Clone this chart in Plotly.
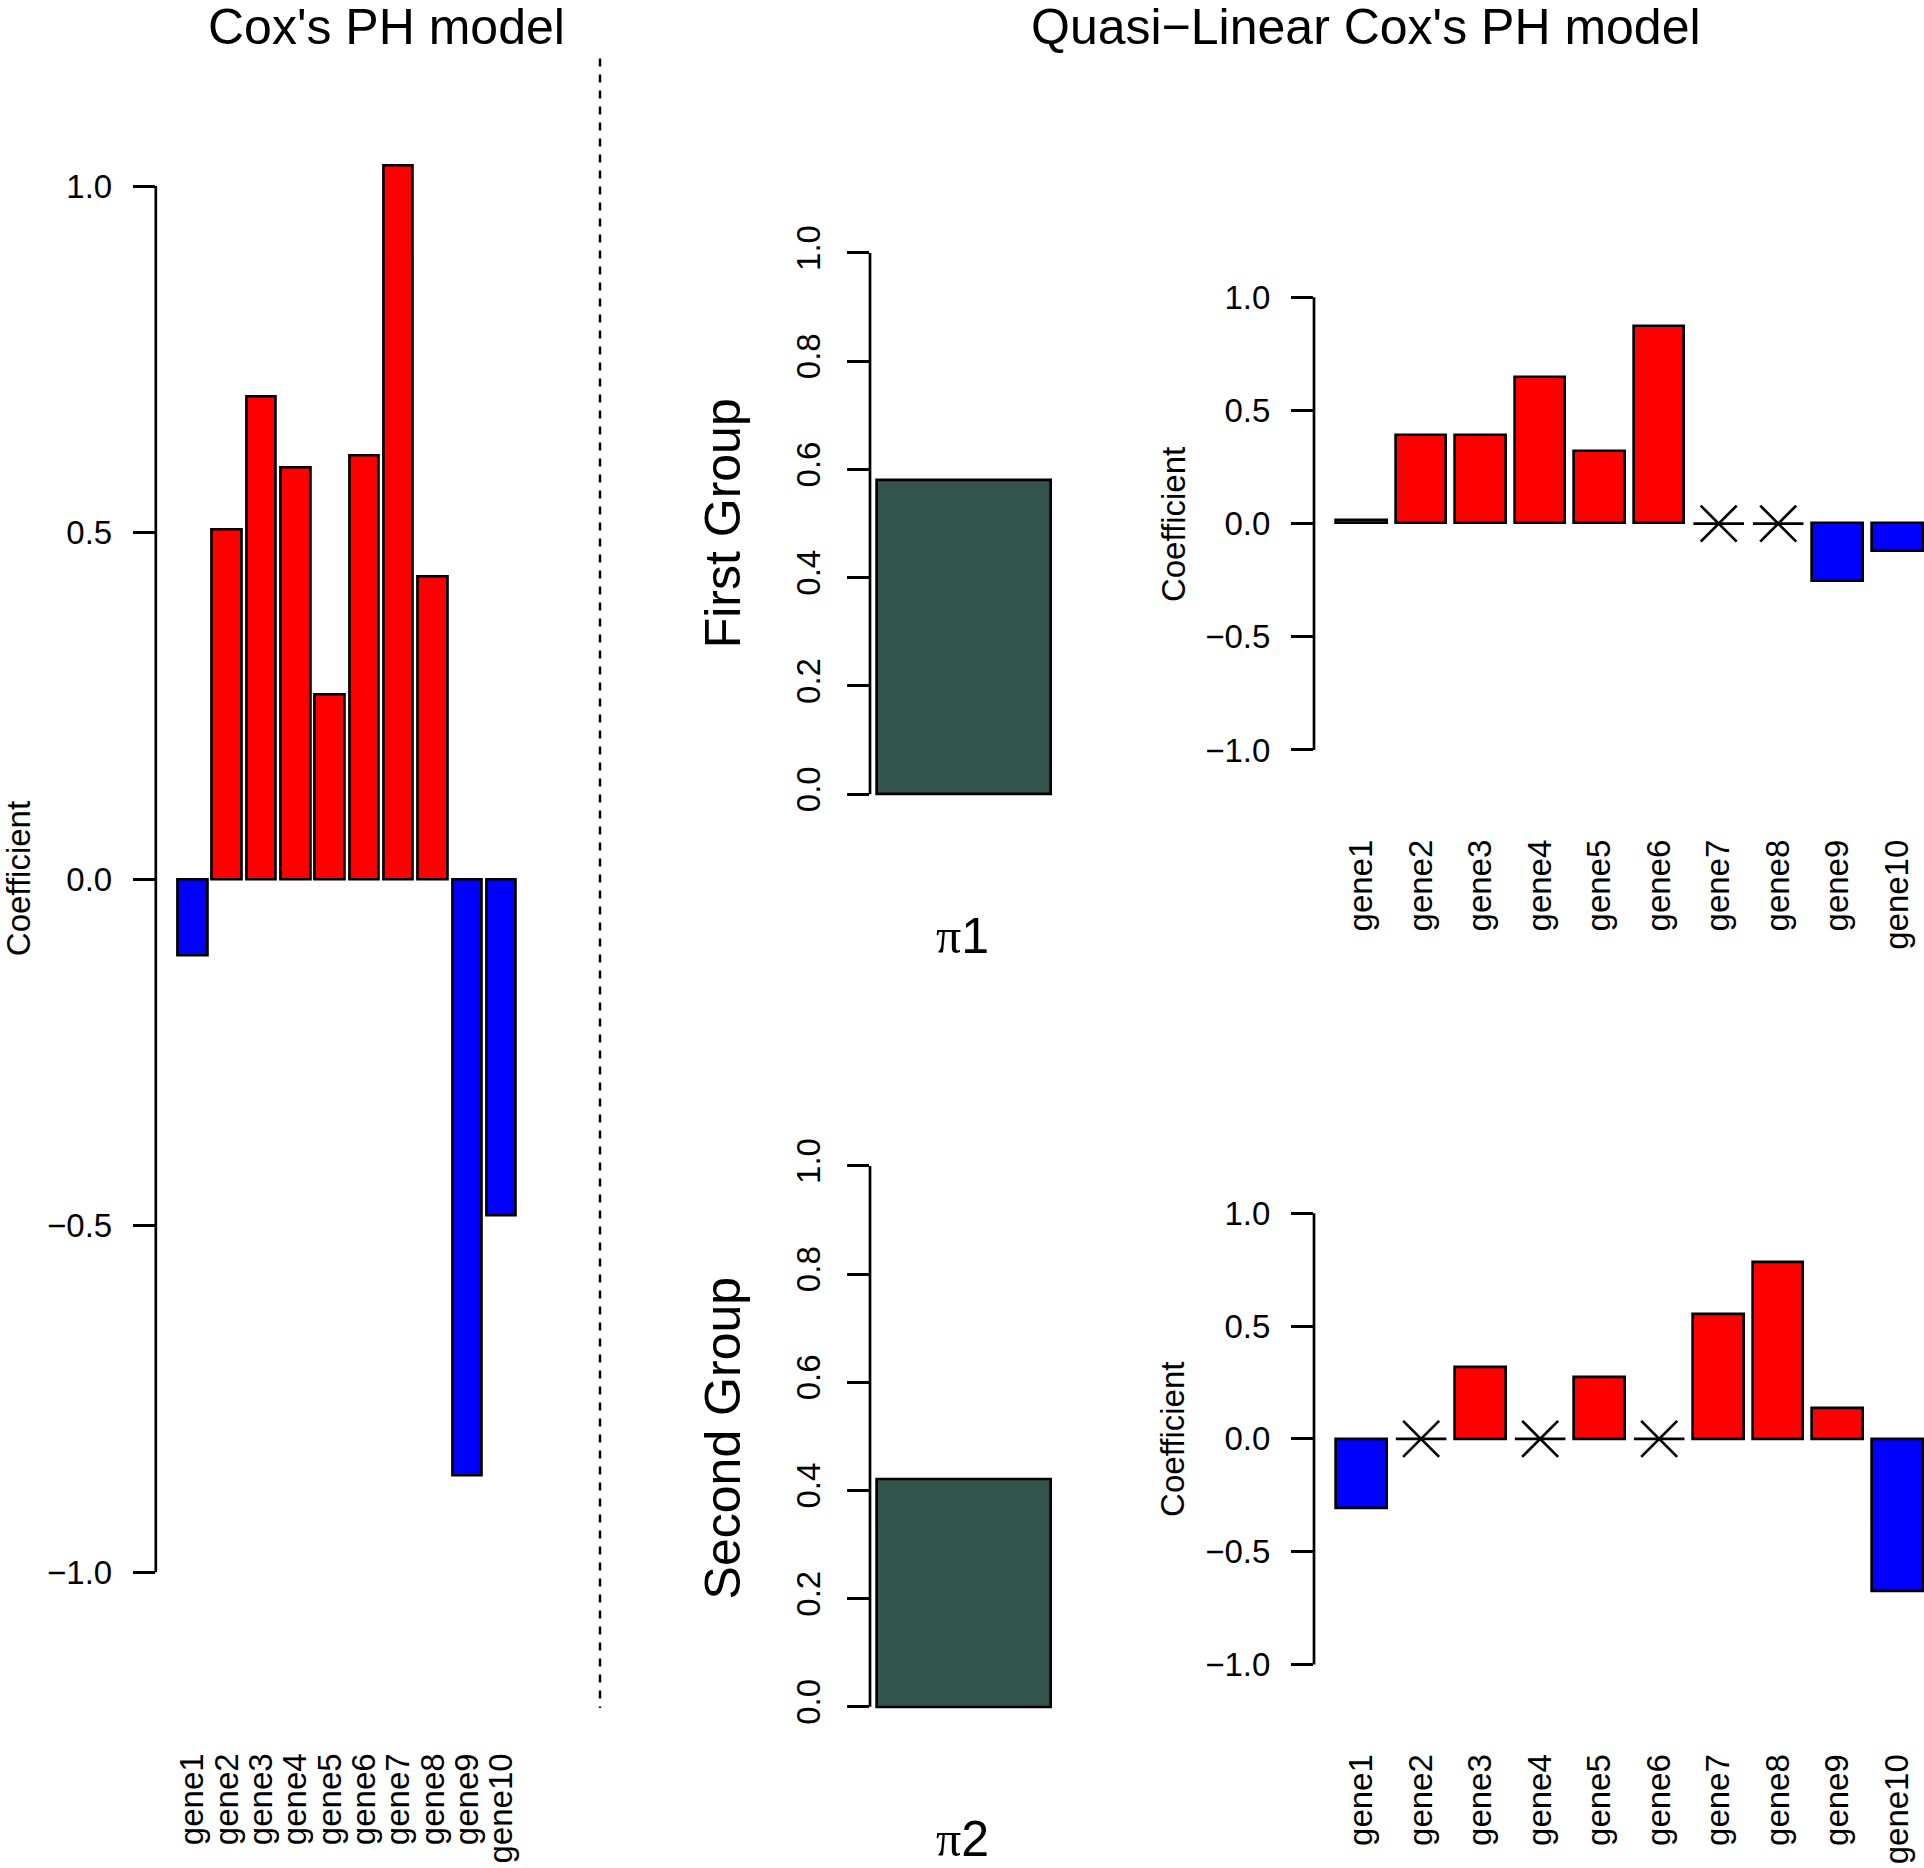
import plotly.graph_objects as go

W, H = 1924, 1868

# ---------------- data ----------------
genes = ["gene1", "gene2", "gene3", "gene4", "gene5",
         "gene6", "gene7", "gene8", "gene9", "gene10"]
cox_coef = [-0.110, 0.505, 0.696, 0.594, 0.267, 0.611, 1.029, 0.437, -0.861, -0.486]
group1_coef = [0.015, 0.393, 0.389, 0.646, 0.322, 0.873, None, None, -0.253, -0.123]
group2_coef = [-0.308, None, 0.318, None, 0.273, None, 0.553, 0.783, 0.134, -0.674]
pi_names = ["π1", "π2"]
pi_values = [0.58, 0.42]
group_names = ["First Group", "Second Group"]
coef_ticks = [-1.0, -0.5, 0.0, 0.5, 1.0]
pi_ticks = [0.0, 0.2, 0.4, 0.6, 0.8, 1.0]
titles = ["Cox's PH model", "Quasi\u2212Linear Cox's PH model"]

RED, BLUE, SLATE = "#FF0000", "#0000FF", "#33544D"
FONT = "Liberation Sans, Arial, Helvetica, sans-serif"
LW = 2.7


def fx(p):
    return p / W


def fy(p):
    return 1 - p / H


fig = go.Figure()


def coef_panel(values, xa, ya, width):
    idx = list(range(len(genes)))
    colors = [RED if (v is not None and v > 0) else BLUE for v in values]
    fig.add_trace(go.Bar(
        x=idx, y=[v for v in values], width=width,
        marker=dict(color=colors, line=dict(color="black", width=LW)),
        xaxis=xa, yaxis=ya, showlegend=False, hoverinfo="x+y"))
    zx = [i for i, v in enumerate(values) if v is None]
    if zx:
        segx, segy = [], []
        for i in zx:
            segx += [i - width / 2, i + width / 2, None]
            segy += [0, 0, None]
        fig.add_trace(go.Scatter(
            x=segx, y=segy, mode="lines", line=dict(color="black", width=LW),
            xaxis=xa, yaxis=ya, showlegend=False, hoverinfo="skip"))
        fig.add_trace(go.Scatter(
            x=zx, y=[0] * len(zx), mode="markers",
            marker=dict(symbol="x-thin", size=36, color="black",
                        line=dict(color="black", width=LW)),
            xaxis=xa, yaxis=ya, showlegend=False, hoverinfo="skip"))


coef_panel(cox_coef, "x", "y", 0.86)
coef_panel(group1_coef, "x4", "y4", 0.85)
coef_panel(group2_coef, "x5", "y5", 0.85)

for k, (xa, ya) in enumerate([("x2", "y2"), ("x3", "y3")]):
    fig.add_trace(go.Bar(
        x=[0], y=[pi_values[k]], width=1.0,
        marker=dict(color=SLATE, line=dict(color="black", width=LW)),
        xaxis=xa, yaxis=ya, showlegend=False))

tickfont = dict(family=FONT, size=33, color="black")

common_y = dict(showgrid=False, zeroline=False, showline=False,
                ticks="outside", ticklen=22, tickwidth=LW, tickcolor="black",
                tickfont=tickfont, tickformat=".1f", fixedrange=True)
common_x = dict(showgrid=False, zeroline=False, showline=False,
                ticks="", tickfont=tickfont, fixedrange=True)

layout = dict(
    width=W, height=H, margin=dict(l=0, r=0, t=0, b=0),
    paper_bgcolor="white", plot_bgcolor="white",
    font=dict(family=FONT, color="black"),
    bargap=0,
    # left: Cox PH
    xaxis=dict(common_x, domain=[fx(155.8), fx(538.3)], range=[-1.076, 10.076],
               tickvals=list(range(10)), ticktext=genes, tickangle=-90,
               anchor="y", ticklabelstandoff=118),
    yaxis=dict(common_y, domain=[fy(1627), fy(125)], range=[-1.08, 1.08],
               tickvals=coef_ticks, anchor="x", ticklabelstandoff=14),
    # middle pi panels
    xaxis2=dict(common_x, domain=[fx(870), fx(1058.1)], range=[-0.54, 0.54],
                showticklabels=False, anchor="y2"),
    yaxis2=dict(common_y, domain=[fy(812.44), fy(226)], range=[-0.04, 1.04],
                tickvals=pi_ticks, tickangle=-90, anchor="x2", ticklabelstandoff=14),
    xaxis3=dict(common_x, domain=[fx(870), fx(1058.1)], range=[-0.54, 0.54],
                showticklabels=False, anchor="y3"),
    yaxis3=dict(common_y, domain=[fy(1728.04), fy(1142)], range=[-0.04, 1.04],
                tickvals=pi_ticks, tickangle=-90, anchor="x3", ticklabelstandoff=14),
    # right panels
    xaxis4=dict(common_x, domain=[fx(1314.0), 1.0], range=[-0.80, 9.45],
                tickvals=list(range(10)), ticktext=genes, tickangle=-90,
                anchor="y4", ticklabelstandoff=64),
    yaxis4=dict(common_y, domain=[fy(764.55), fy(274)], range=[-1.08, 1.08],
                tickvals=coef_ticks, anchor="x4", ticklabelstandoff=14),
    xaxis5=dict(common_x, domain=[fx(1314.0), 1.0], range=[-0.80, 9.45],
                tickvals=list(range(10)), ticktext=genes, tickangle=-90,
                anchor="y5", ticklabelstandoff=64),
    yaxis5=dict(common_y, domain=[fy(1682), fy(1193)], range=[-1.08, 1.08],
                tickvals=coef_ticks, anchor="x5", ticklabelstandoff=14),
)
fig.update_layout(**layout)

# R-style axis lines spanning only the tick range
shapes = []
for xa, ya, lo, hi in [("x", "y", -1, 1), ("x2", "y2", 0, 1), ("x3", "y3", 0, 1),
                       ("x4", "y4", -1, 1), ("x5", "y5", -1, 1)]:
    shapes.append(dict(type="line", xref=f"{xa} domain", yref=ya,
                       x0=0, x1=0, y0=lo, y1=hi,
                       line=dict(color="black", width=LW)))
# dashed separator
shapes.append(dict(type="line", xref="paper", yref="paper",
                   x0=fx(600), x1=fx(600), y0=fy(52.6), y1=fy(1707.6),
                   line=dict(color="black", width=2.4, dash="8px,8px")))
fig.update_layout(shapes=shapes)


def note(text, xp, yp, size, angle=0):
    return dict(text=text, x=fx(xp), y=fy(yp), xref="paper", yref="paper",
                xanchor="center", yanchor="middle", showarrow=False,
                textangle=angle, font=dict(size=size, family=FONT, color="black"))


ann = [note(titles[0], 386, 21, 50), note(titles[1], 1366, 21, 50)]
for xp, yp in [(18, 876), (1173, 520.75), (1173, 1438.5)]:
    ann.append(note("Coefficient", xp, yp, 33, -90))
for txt, yp in zip(group_names, [519, 1437]):
    ann.append(note(txt, 723, yp, 50, -90))
for txt, yp in zip(pi_names, [933, 1839]):
    t = "<span style='font-family:Liberation Serif'>" + txt[0] + "</span>" + txt[1:]
    ann.append(note(t, 962, yp, 50))
fig.update_layout(annotations=ann)

fig.write_html("out.html", config={"displayModeBar": False},
               post_script="document.body.style.margin='0px';")
